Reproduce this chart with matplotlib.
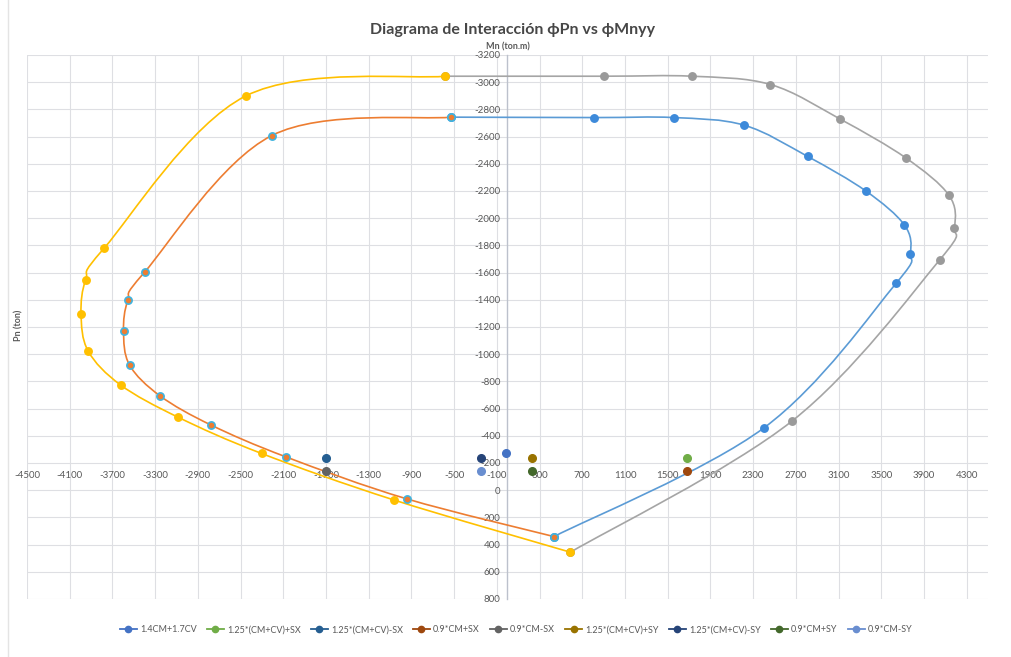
import numpy as np
import matplotlib.pyplot as plt
from matplotlib.path import Path
from matplotlib.patches import PathPatch
from matplotlib.lines import Line2D

plt.rcParams['font.family'] = ['Lato', 'DejaVu Sans']
plt.rcParams['axes.unicode_minus'] = False

# --- interaction curve, phi factored (left half / right half) ---
m_left_in = [-529, -2207, -3399, -3556, -3596, -3540, -3255, -2779, -2075, -942, 435]
p_left_in = [-2743, -2608, -1603, -1395, -1171, -921, -694, -480, -245, 64, 341]
m_right_in = [-529, 811, 1556, 2216, 2811, 3358, 3718, 3772, 3640, 2401, 435]
p_right_in = [-2743, -2740, -2740, -2684, -2454, -2199, -1949, -1740, -1522, -458, 341]

# --- nominal interaction curve ---
m_left_out = [-585, -2451, -3775, -3950, -3994, -3928, -3624, -3086, -2303, -1067, 589]
p_left_out = [-3044, -2899, -1782, -1549, -1299, -1024, -774, -537, -270, 71, 456]
m_right_out = [-585, 904, 1725, 2463, 3117, 3731, 4134, 4185, 4047, 2667, 589]
p_right_out = [-3044, -3044, -3044, -2983, -2728, -2443, -2169, -1931, -1693, -510, 456]

# --- load combinations ---
combos = ["1.4CM+1.7CV", "1.25*(CM+CV)+SX", "1.25*(CM+CV)-SX", "0.9*CM+SX",
          "0.9*CM-SX", "1.25*(CM+CV)+SY", "1.25*(CM+CV)-SY", "0.9*CM+SY", "0.9*CM-SY"]
combo_m = [-12, 1684, -1703, 1684, -1703, 228, -247, 228, -247]
combo_p = [-274, -235, -235, -140, -140, -235, -235, -140, -140]
combo_colors = ["#4472C4", "#70AD47", "#255E91", "#9E480E", "#636363",
                "#997300", "#264478", "#43682B", "#698ED0"]


def smooth_path(xs, ys):
    # Catmull-Rom style cubic Bezier through the points (like Excel's smoothed lines)
    pts = np.column_stack([xs, ys]).astype(float)
    n = len(pts)
    verts = [pts[0]]
    codes = [Path.MOVETO]
    for i in range(n - 1):
        p0 = pts[i - 1] if i > 0 else pts[i]
        p1, p2 = pts[i], pts[i + 1]
        p3 = pts[i + 2] if i + 2 < n else pts[i + 1]
        verts += [p1 + (p2 - p0) / 6, p2 - (p3 - p1) / 6, p2]
        codes += [Path.CURVE4] * 3
    return Path(verts, codes)


fig = plt.figure(figsize=(10.12, 6.57), dpi=100)
ax = fig.add_axes([27 / 1012, 1 - 599 / 657, 961 / 1012, 544 / 657])

ax.set_xlim(-4500, 4500)
ax.set_ylim(800, -3200)
ax.set_xticks(np.arange(-4500, 4301, 400))
ax.set_yticks(np.arange(-3200, 801, 200))
ax.grid(True, color='#dedfe3', lw=0.8)
ax.set_axisbelow(True)

for s in ['top', 'right', 'bottom']:
    ax.spines[s].set_visible(False)
ax.spines['bottom'].set_position(('data', -200))
ax.spines['left'].set_position(('data', 0))
ax.spines['left'].set_color('#bcc1cc')
ax.spines['left'].set_linewidth(1.0)
ax.tick_params(axis='both', length=0, labelsize=7, labelcolor='#595959')
ax.tick_params(axis='x', pad=6)
ax.tick_params(axis='y', pad=5)

# curves
curves = [
    (m_right_in, p_right_in, '#5B9BD5', '#3d8ada', '#3d8ada'),
    (m_left_in, p_left_in, '#ED7D31', '#ED7D31', '#3fb4e0'),
    (m_right_out, p_right_out, '#A5A5A5', '#9a9a9a', '#9a9a9a'),
    (m_left_out, p_left_out, '#FFC000', '#FFC000', '#FFC000'),
]
for xs, ys, lc, fc, ec in curves:
    ax.add_patch(PathPatch(smooth_path(xs, ys), fill=False, edgecolor=lc, lw=1.2, zorder=3))
    ax.plot(xs, ys, ls='none', marker='o', ms=5.2, mfc=fc, mec=ec, mew=1.2, zorder=4)

# load combination points
handles = []
for m, p, c, name in zip(combo_m, combo_p, combo_colors, combos):
    ax.plot([m], [p], ls='none', marker='o', ms=5.5, color=c, zorder=5)
    handles.append(Line2D([], [], color=c, lw=1.3, marker='o', ms=4.5, label=name))

fig.text(0.506, 1 - 30 / 657, 'Diagrama de Interacción ϕPn vs ϕMnyy', ha='center', va='center',
         fontsize=11.5, fontweight='bold', color='#474747')
fig.text(508 / 1012, 1 - 47 / 657, 'Mn (ton.m)', ha='center', va='center',
         fontsize=6.5, fontweight='bold', color='#595959')
fig.text(19 / 1012, 1 - 325 / 657, 'Pn (ton)', ha='center', va='center', rotation=90,
         fontsize=6.5, fontweight='bold', color='#595959')

fig.legend(handles=handles, loc='center', bbox_to_anchor=(0.51, 1 - 630 / 657), ncol=9,
           frameon=False, fontsize=6.5, labelcolor='#595959', handlelength=1.9,
           handletextpad=0.35, columnspacing=1.1)

fig.add_artist(Line2D([8 / 1012, 8 / 1012], [0, 1], color='#e4e4e4', lw=1))

fig.savefig('out.png', dpi=100, facecolor='white')
